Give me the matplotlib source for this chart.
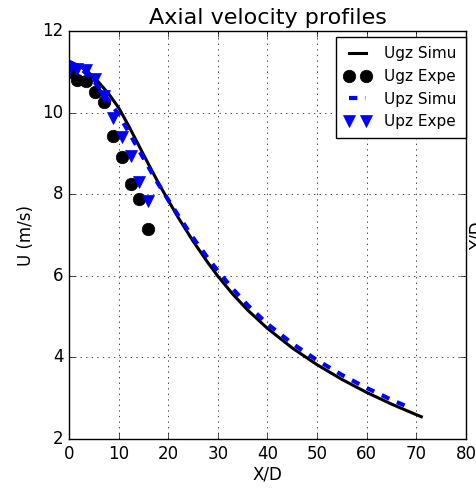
import matplotlib
matplotlib.use('Agg')
import matplotlib.pyplot as plt
import numpy as np

plt.style.use('classic')

# simulated profiles
x_ugz_simu = [0, 2, 4, 6, 8, 10, 12, 14, 16, 18, 20, 22, 25, 28, 30, 33, 36, 40, 45, 50, 55, 60, 65, 70, 71]
ugz_simu = [11.25, 11.15, 10.98, 10.74, 10.46, 10.12, 9.68, 9.21, 8.74, 8.28, 7.85, 7.43, 6.85, 6.32, 5.99,
            5.55, 5.16, 4.71, 4.23, 3.82, 3.46, 3.14, 2.855, 2.595, 2.545]
x_upz_simu = [0, 2, 4, 6, 8, 10, 12, 14, 16, 18, 20, 22, 25, 28, 30, 33, 36, 40, 45, 50, 55, 60, 65, 69]
upz_simu = [11.25, 11.12, 10.9, 10.62, 10.3, 9.95, 9.53, 9.1, 8.67, 8.25, 7.86, 7.48, 6.93, 6.43, 6.12,
            5.68, 5.28, 4.82, 4.34, 3.93, 3.57, 3.25, 2.96, 2.75]

# experiments
x_expe = [0, 1.6, 3.5, 5.3, 7.1, 8.9, 10.7, 12.5, 14.2, 16.0]
ugz_expe = [11.0, 10.8, 10.78, 10.5, 10.25, 9.43, 8.9, 8.25, 7.88, 7.15]
upz_expe = [11.05, 11.08, 11.05, 10.82, 10.4, 9.86, 9.39, 8.94, 8.31, 7.84]

fig = plt.figure(figsize=(4.77, 4.88), dpi=100, facecolor='w')
ax = fig.add_axes([69/477., 1-439/488., (466-69)/477., (439-31)/488.])

ax.plot(x_ugz_simu, ugz_simu, 'k-', lw=2.2, label='Ugz Simu')
ax.plot(x_expe, ugz_expe, 'ko', ms=9, label='Ugz Expe')
l, = ax.plot(x_upz_simu, upz_simu, 'b--', lw=3, label='Upz Simu')
l.set_dashes([6, 6])
ax.plot(x_expe, upz_expe, 'bv', ms=9, mec='b', label='Upz Expe')

ax.set_xlim(0, 80)
ax.set_ylim(2, 12)
ax.set_xticks(np.arange(0, 81, 10))
ax.set_yticks(np.arange(2, 13, 2))
ax.tick_params(labelsize=12)
ax.grid(True)
ax.set_xlabel('X/D', fontsize=12, labelpad=2)
ax.set_ylabel('U (m/s)', fontsize=12)
ax.set_title('Axial velocity profiles', fontsize=16)

ax.legend(loc='upper right', bbox_to_anchor=(1.0, 0.985), fontsize=11, numpoints=2,
          fancybox=False, borderaxespad=0, handlelength=1.7, handletextpad=0.9,
          borderpad=0.6, labelspacing=0.5)

fig.text(469/477., 0.518, 'Y/D', rotation=90, va='center', ha='left', fontsize=12)

fig.savefig('out.png', dpi=100, facecolor='w')
